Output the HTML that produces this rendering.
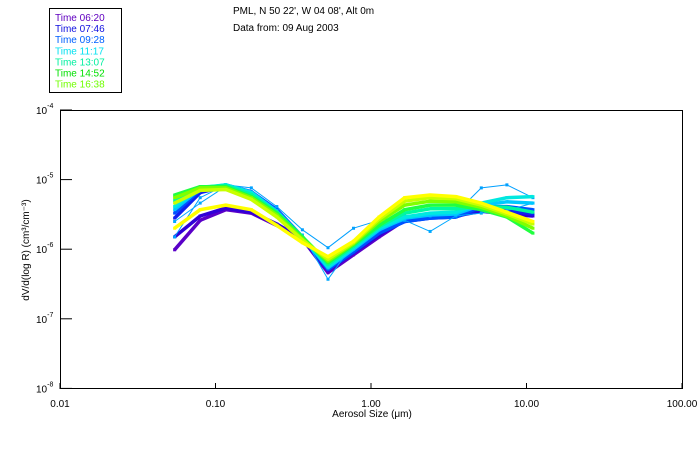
<!DOCTYPE html>
<html><head><meta charset="utf-8"><style>
html,body{margin:0;padding:0;background:#fff;}
svg{display:block;font-family:"Liberation Sans",sans-serif;}
</style></head><body>
<svg id="chart" width="700" height="450" viewBox="0 0 700 450">
<rect x="0" y="0" width="700" height="450" fill="#fff"/>
<g>
<rect x="49.5" y="8.5" width="72" height="84" fill="#fff" stroke="#000" stroke-width="1"/>
<g id="legendItems" font-size="10"></g>
</g>
<g font-size="10" fill="#000">
<text x="233" y="14">PML, N 50 22', W 04 08', Alt 0m</text>
<text x="233" y="31">Data from: 09 Aug 2003</text>
</g>
<rect x="60.5" y="110.5" width="622" height="278" fill="none" stroke="#000" stroke-width="1"/>
<g id="xaxis" font-size="10"></g>
<g id="yaxis" font-size="10"></g>
<text x="372" y="417" font-size="10" text-anchor="middle">Aerosol Size (μm)</text>
<text transform="translate(29,250) rotate(-90)" font-size="10" text-anchor="middle">dV/d(log R) (cm³/cm⁻³)</text>
<g id="series"></g>
</svg>
<script>
const sizes = [0.0546,0.0797,0.1164,0.170,0.248,0.362,0.529,0.772,1.127,1.646,2.40,3.51,5.12,7.48,11.0];
const xTicks = [0.01,0.1,1,10,100];
const xTickLabels = ["0.01","0.10","1.00","10.00","100.00"];
const yTicks = [-4,-5,-6,-7,-8];
const legendLabels = ["Time 06:20","Time 07:46","Time 09:28","Time 11:17","Time 13:07","Time 14:52","Time 16:38"];
const legendColors = ["#6000c0","#1010e0","#0060ff","#00e0f0","#00f0a0","#00e000","#70ff00"];
const seriesColors = ["#5a00c8","#3000d8","#1020f0","#0050ff","#00a0ff","#00a8ff","#00c8ff","#00e8e0","#00f8a0","#20ff40","#80ff00","#c8ff00","#ffff00"];
const s0 = [9.8e-7,2.6e-6,3.7e-6,3.3e-6,2.2e-6,1.4e-6,4.6e-7,8.3e-7,1.5e-6,2.6e-6,2.9e-6,3.1e-6,3.7e-6,3.4e-6,3.3e-6];
const s1 = [1.5e-6,3.0e-6,3.9e-6,3.4e-6,2.3e-6,1.4e-6,5.0e-7,9.0e-7,1.6e-6,2.6e-6,2.9e-6,3.0e-6,3.5e-6,3.2e-6,3.0e-6];
const s2 = [2.8e-6,6.5e-6,8.0e-6,6.5e-6,3.7e-6,1.5e-6,5.1e-7,9.0e-7,1.7e-6,2.5e-6,2.8e-6,2.9e-6,3.8e-6,3.6e-6,3.2e-6];
const s3 = [3.3e-6,7.1e-6,8.4e-6,6.7e-6,3.7e-6,1.5e-6,5.1e-7,9.2e-7,1.7e-6,2.5e-6,2.8e-6,2.9e-6,4.1e-6,4.1e-6,3.7e-6];
const s4 = [1.5e-6,5.5e-6,8.4e-6,7.6e-6,4.1e-6,1.9e-6,1.05e-6,2.0e-6,2.6e-6,3.0e-6,3.0e-6,3.3e-6,7.6e-6,8.4e-6,5.5e-6];
const s5 = [2.5e-6,4.6e-6,8.0e-6,6.5e-6,3.6e-6,1.6e-6,3.7e-7,1.2e-6,1.9e-6,2.6e-6,1.8e-6,3.0e-6,3.3e-6,3.6e-6,4.6e-6];
const s6 = [3.7e-6,7.4e-6,8.4e-6,6.6e-6,3.5e-6,1.5e-6,5.4e-7,1.0e-6,1.9e-6,2.8e-6,3.1e-6,3.2e-6,4.3e-6,4.8e-6,4.6e-6];
const s7 = [4.1e-6,7.6e-6,8.4e-6,6.5e-6,3.4e-6,1.5e-6,5.6e-7,1.05e-6,2.0e-6,2.9e-6,3.3e-6,3.4e-6,4.6e-6,5.5e-6,5.7e-6];
const s8 = [5.0e-6,7.8e-6,8.2e-6,6.1e-6,3.4e-6,1.5e-6,6.0e-7,1.1e-6,2.1e-6,3.3e-6,3.8e-6,3.8e-6,4.1e-6,4.0e-6,3.4e-6];
const s9 = [6.0e-6,7.9e-6,7.9e-6,5.7e-6,3.3e-6,1.5e-6,6.4e-7,1.16e-6,2.2e-6,3.7e-6,4.3e-6,4.3e-6,3.7e-6,2.9e-6,1.7e-6];
const s10 = [5.5e-6,7.6e-6,7.6e-6,5.5e-6,3.1e-6,1.4e-6,6.8e-7,1.2e-6,2.5e-6,4.3e-6,4.9e-6,4.8e-6,4.0e-6,3.0e-6,2.0e-6];
const s11 = [4.6e-6,7.0e-6,7.2e-6,5.2e-6,2.9e-6,1.35e-6,7.2e-7,1.25e-6,2.7e-6,4.9e-6,5.5e-6,5.3e-6,4.3e-6,3.2e-6,2.3e-6];
const s12 = [2.0e-6,3.7e-6,4.3e-6,3.7e-6,2.2e-6,1.24e-6,7.8e-7,1.3e-6,2.9e-6,5.5e-6,6.0e-6,5.7e-6,4.6e-6,3.4e-6,2.5e-6];
const allSeries = [s0,s1,s2,s3,s4,s5,s6,s7,s8,s9,s10,s11,s12];

const NS = "http://www.w3.org/2000/svg";
const X0 = 60, DEC_X = 155.5, Y0 = 110, DEC_Y = 69.6;
function xScale(v){ return X0 + (Math.log10(v) + 2) * DEC_X; }
function yScale(v){ return Y0 + (-4 - Math.log10(v)) * DEC_Y; }
function mk(tag, attrs, parent){ const e = document.createElementNS(NS, tag); for (const k in attrs) e.setAttribute(k, attrs[k]); parent.appendChild(e); return e; }

const xa = document.getElementById('xaxis');
xTicks.forEach((t, i) => {
  const x = xScale(t);
  const tk = mk('line', {x1:x, x2:x, y1:389, y2:383, stroke:'#000'}, xa);
  
  
  const lb = mk('text', {x:x, y:407, 'text-anchor':'middle'}, xa);
  lb.textContent = xTickLabels[i];
  
  
});
const ya = document.getElementById('yaxis');
yTicks.forEach(p => {
  const y = yScale(Math.pow(10, p));
  const tk = mk('line', {x1:60, x2:72, y1:y, y2:y, stroke:'#000'}, ya);
  
  
  const lb = mk('text', {x:36, y:y + 4, 'text-anchor':'start'}, ya);
  
  
  lb.textContent = '10';
  const sp = mk('tspan', {dy:-6, 'font-size':7}, lb);
  sp.textContent = String(p);
});

const lg = document.getElementById('legendItems');
legendLabels.forEach((l, i) => {
  const t = mk('text', {x:55, y:21 + i * 11.1, fill:legendColors[i]}, lg);
  t.textContent = l;
  
  
});

const sg = document.getElementById('series');
allSeries.forEach((s, si) => {
  const g = mk('g', {}, sg);
  
  
  const pts = s.map((v, i) => xScale(sizes[i]).toFixed(1) + ',' + yScale(v).toFixed(1)).join(' ');
  const w = (si === 4 || si === 5) ? 1 : 3.5;
  mk('polyline', {points:pts, fill:'none', stroke:seriesColors[si], 'stroke-width':w, 'stroke-linejoin':'round'}, g);
  s.forEach((v, i) => {
    const m = mk('rect', {x:xScale(sizes[i]) - 1.5, y:yScale(v) - 1.5, width:3, height:3, fill:seriesColors[si]}, g);
    
    
  });
});
</script>
</body></html>
